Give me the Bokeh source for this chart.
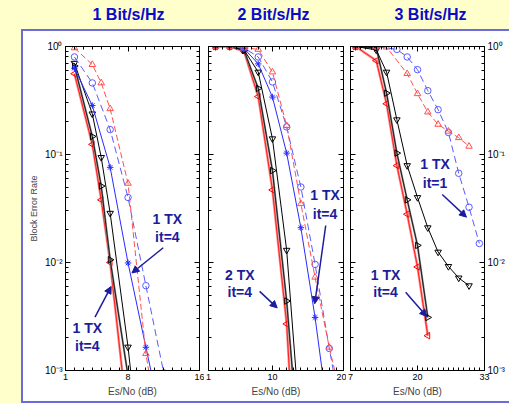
import math
from bokeh.plotting import figure
from bokeh.models import (Range1d, LinearAxis, LogAxis, FixedTicker, CustomJSTickFormatter,
                          Label, Arrow, NormalHead, Spacer)
from bokeh.layouts import row, column
from bokeh.embed import file_html
from bokeh.resources import INLINE
from bokeh.core.properties import value

# ---------------- data ----------------
panel_titles = ["1 Bit/s/Hz", "2 Bit/s/Hz", "3 Bit/s/Hz"]
x_label = "Es/No (dB)"
y_label = "Block Error Rate"

p1_xticks = [1, 8, 16]
p2_xticks = [1, 10, 20]
p3_xticks = [7, 20, 33]
y_decades = [1e-3, 1e-2, 1e-1, 1]

# panel 1 (1 Bit/s/Hz)
p1_triup_x = [2, 4, 5, 6, 8, 10, 12]
p1_triup_y = [0.97, 0.68, 0.46, 0.265, 0.054, 0.00143, 0.00014]
p1_circle_x = [2, 4, 6, 8, 10, 12]
p1_circle_y = [0.80, 0.46, 0.17, 0.040, 0.0061, 0.00095]
p1_star_x = [2, 4, 6, 8, 10, 12]
p1_star_y = [0.63, 0.284, 0.076, 0.0099, 0.00164, 0.00028]
p1_down_x = [2, 4, 5, 6, 8, 10]
p1_down_y = [0.70, 0.238, 0.094, 0.0286, 0.00165, 0.00005]
p1_right_x = [2, 4, 5, 6, 8]
p1_right_y = [0.66, 0.147, 0.051, 0.0106, 0.00089]
p1_left_x = [2, 4, 5, 6, 8]
p1_left_y = [0.56, 0.124, 0.038, 0.010, 0.00032]

# panel 2 (2 Bit/s/Hz)
p2_triup_x = [2, 4, 6, 8, 10, 12, 14, 16, 18, 20]
p2_triup_y = [1.0, 1.0, 0.98, 0.94, 0.58, 0.185, 0.035, 0.0073, 0.00164, 0.00045]
p2_circle_x = [2, 4, 6, 8, 10, 12, 14, 16, 18, 20]
p2_circle_y = [1.0, 1.0, 0.97, 0.80, 0.47, 0.18, 0.050, 0.0096, 0.0016, 0.0003]
p2_star_x = [2, 4, 6, 8, 10, 12, 14, 16, 18]
p2_star_y = [1.0, 1.0, 0.96, 0.69, 0.34, 0.103, 0.021, 0.0031, 0.00032]
p2_down_x = [2, 4, 6, 8, 10, 12, 14]
p2_down_y = [1.0, 1.0, 0.93, 0.58, 0.14, 0.013, 0.00025]
p2_right_x = [2, 4, 6, 8, 10, 12, 14]
p2_right_y = [1.0, 1.0, 0.92, 0.41, 0.071, 0.0044, 0.00011]
p2_left_x = [2, 4, 6, 8, 10, 12, 14]
p2_left_y = [1.0, 1.0, 0.90, 0.344, 0.047, 0.0027, 0.000015]

# panel 3 (3 Bit/s/Hz)
p3_triup_x = [8, 12, 14, 18, 20, 22, 24, 26, 28, 30]
p3_triup_y = [1.0, 1.0, 0.985, 0.56, 0.365, 0.247, 0.19, 0.164, 0.143, 0.119]
p3_circle_x = [8, 12, 16, 18, 20, 22, 24, 26, 28, 30, 32]
p3_circle_y = [1.0, 1.0, 0.94, 0.80, 0.61, 0.39, 0.26, 0.16, 0.067, 0.0325, 0.015]
p3_down_x = [8, 12, 14, 16, 18, 20, 22, 24, 26, 28, 30]
p3_down_y = [1.0, 0.93, 0.58, 0.21, 0.079, 0.040, 0.021, 0.0125, 0.0092, 0.0072, 0.0061]
p3_right_x = [8, 12, 14, 16, 18, 20, 22]
p3_right_y = [1.0, 0.97, 0.37, 0.103, 0.038, 0.0144, 0.0031]
p3_left_x = [8, 12, 14, 16, 18, 20, 22]
p3_left_y = [1.0, 0.74, 0.295, 0.079, 0.028, 0.0091, 0.0021]

# annotations: two text lines, their anchor, and arrow start/end (data coords)
p1_notes = [
    (["1 TX", "it=4"], 12.4, [0.0254, 0.0174], (11.94, 0.0137), (8.44, 0.0080)),
    (["1 TX", "it=4"], 3.44, [0.00247, 0.00168], (4.30, 0.00312), (6.11, 0.0060)),
]
p2_notes = [
    (["1 TX", "it=4"], 17.4, [0.0426, 0.0284], (17.5, 0.022), (15.95, 0.00415)),
    (["2 TX", "it=4"], 5.4, [0.00774, 0.0053], (8.2, 0.0054), (10.67, 0.0038)),
]
p3_notes = [
    (["1 TX", "it=1"], 23.4, [0.0808, 0.0542], (24.8, 0.0426), (29.5, 0.0263)),
    (["1 TX", "it=4"], 13.8, [0.00774, 0.0053], (17.7, 0.0053), (21.8, 0.00316)),
]

# ---------------- styles ----------------
YELLOW = "#ffffcc"
BORDER = "#6b6be0"
TITLE_C = "#0a0acc"
NAVY = "#1c1c9c"
FONT = "Liberation Sans"

STYLES = {
    "left":   dict(color="#ff9090", width=2.5, dash="solid", marker="triangle", angle=math.pi / 2, overlay="#ff0000"),
    "right":  dict(color="#8a8a8a", width=2.0, dash="solid", marker="triangle", angle=-math.pi / 2, overlay="#000000"),
    "down":   dict(color="#000000", width=1.0, dash="solid", marker="inverted_triangle", angle=0.0, overlay=None),
    "star":   dict(color="#2a2aff", width=1.0, dash="solid", marker="asterisk", angle=0.0, overlay=None),
    "circle": dict(color="#5a5aff", width=1.0, dash="7 4", marker="circle", angle=0.0, overlay=None),
    "triup":  dict(color="#ff5050", width=1.0, dash="6 3", marker="triangle", angle=0.0, overlay=None),
}

SUP_JS = """
const e = Math.round(Math.log10(tick));
const sup = {"-": "\u207b", "0": "\u2070", "1": "\u00b9", "2": "\u00b2", "3": "\u00b3"};
return "10" + String(e).split("").map(c => sup[c]).join("");
"""
EMPTY_JS = "return '';"

Y_MINOR = [m * 10.0 ** e for e in (-3, -2, -1) for m in range(2, 10)]


def style_axis(ax, show_labels, size="9px"):
    ax.axis_line_color = "black"
    ax.major_tick_in = 5
    ax.major_tick_out = 0
    ax.minor_tick_in = 3
    ax.minor_tick_out = 0
    ax.major_tick_line_color = "black"
    ax.minor_tick_line_color = "black"
    ax.major_label_text_font = FONT
    ax.major_label_text_font_size = size if show_labels else "0px"
    ax.major_label_text_color = "black"
    ax.major_label_standoff = 3 if show_labels else 0
    ax.axis_label_text_font = FONT
    ax.axis_label_text_font_size = "10px"
    ax.axis_label_text_font_style = "normal"
    ax.axis_label_standoff = 3


def make_panel(xr, xticks, series, notes, width, bl, br, left_labels, right_labels):
    p = figure(width=width, height=370, x_range=Range1d(*xr), y_range=Range1d(1e-3, 1),
               y_axis_type="log", output_backend="svg", toolbar_location=None,
               min_border_left=bl, min_border_right=br, min_border_top=15, min_border_bottom=31,
               background_fill_color="white", border_fill_color="white",
               outline_line_color="black")
    p.xgrid.visible = False
    p.ygrid.visible = False
    xt = FixedTicker(ticks=xticks, minor_ticks=list(range(xr[0], xr[1] + 1)))
    yt = FixedTicker(ticks=y_decades, minor_ticks=Y_MINOR)

    bx = p.xaxis[0]
    bx.ticker = xt
    bx.axis_label = x_label
    style_axis(bx, True)

    ly = p.yaxis[0]
    ly.ticker = yt
    ly.formatter = CustomJSTickFormatter(code=SUP_JS if left_labels else EMPTY_JS)
    style_axis(ly, left_labels, "10px")
    if left_labels:
        ly.axis_label = y_label
        ly.axis_label_text_font_size = "9px"

    tx = LinearAxis(ticker=FixedTicker(ticks=xticks, minor_ticks=list(range(xr[0], xr[1] + 1))),
                    formatter=CustomJSTickFormatter(code=EMPTY_JS))
    style_axis(tx, False)
    p.add_layout(tx, "above")

    ry = LogAxis(ticker=FixedTicker(ticks=y_decades, minor_ticks=Y_MINOR),
                 formatter=CustomJSTickFormatter(code=SUP_JS if right_labels else EMPTY_JS))
    style_axis(ry, right_labels, "10px")
    p.add_layout(ry, "right")

    for key in ["left", "right", "down", "star", "circle", "triup"]:
        if key not in series:
            continue
        xs, ys = series[key]
        st = STYLES[key]
        p.line(xs, ys, line_color=st["color"], line_width=st["width"], line_dash=st["dash"])
        if st["overlay"]:
            p.line(xs, ys, line_color=st["overlay"], line_width=0.8)
        p.scatter(xs, ys, marker=st["marker"], size=6.5, angle=st["angle"],
                  line_color=st["overlay"] or st["color"], line_width=1.0, fill_color=None)

    for texts, tx_, tys, start, end in notes:
        for t, ty in zip(texts, tys):
            p.add_layout(Label(x=tx_, y=ty, text=t, text_align="center", text_baseline="middle",
                               text_font=FONT, text_font_style="bold", text_font_size="14px",
                               text_color=NAVY))
        p.add_layout(Arrow(x_start=start[0], y_start=start[1], x_end=end[0], y_end=end[1],
                           line_color=NAVY, line_width=1.5,
                           end=NormalHead(size=7, fill_color=NAVY, line_color=NAVY)))
    return p


p1 = make_panel((1, 16), p1_xticks,
                {"triup": (p1_triup_x, p1_triup_y), "circle": (p1_circle_x, p1_circle_y),
                 "star": (p1_star_x, p1_star_y), "down": (p1_down_x, p1_down_y),
                 "right": (p1_right_x, p1_right_y), "left": (p1_left_x, p1_left_y)},
                p1_notes, 181, 42, 5, True, False)
p2 = make_panel((1, 20), p2_xticks,
                {"triup": (p2_triup_x, p2_triup_y), "circle": (p2_circle_x, p2_circle_y),
                 "star": (p2_star_x, p2_star_y), "down": (p2_down_x, p2_down_y),
                 "right": (p2_right_x, p2_right_y), "left": (p2_left_x, p2_left_y)},
                p2_notes, 142, 4, 3, False, False)
p3 = make_panel((7, 33), p3_xticks,
                {"triup": (p3_triup_x, p3_triup_y), "circle": (p3_circle_x, p3_circle_y),
                 "down": (p3_down_x, p3_down_y),
                 "right": (p3_right_x, p3_right_y), "left": (p3_left_x, p3_left_y)},
                p3_notes, 163, 4, 25, False, True)

# title strip
title_x = [128, 273, 430]
tp = figure(width=509, height=29, x_range=Range1d(0, 509), y_range=Range1d(0, 29),
            x_axis_location=None, y_axis_location=None, output_backend="svg",
            toolbar_location=None, min_border=0, background_fill_color=YELLOW,
            border_fill_color=YELLOW, outline_line_color=None)
tp.xgrid.visible = False
tp.ygrid.visible = False
tp.text(x=title_x, y=[15] * 3, text=panel_titles, text_font=value(FONT), text_font_style="bold",
        text_font_size="16px", text_color=TITLE_C, text_align="center", text_baseline="middle")

panels = row(p1, p2, p3, styles={"background-color": "white",
                                 "border-left": f"2px solid {BORDER}",
                                 "border-top": f"2px solid {BORDER}",
                                 "border-bottom": f"2px solid {BORDER}"})
lower = row(Spacer(width=21, height=374), panels, styles={"background-color": YELLOW})
page = column(tp, lower, styles={"background-color": YELLOW})

open("out.html", "w").write(file_html(page, INLINE))
